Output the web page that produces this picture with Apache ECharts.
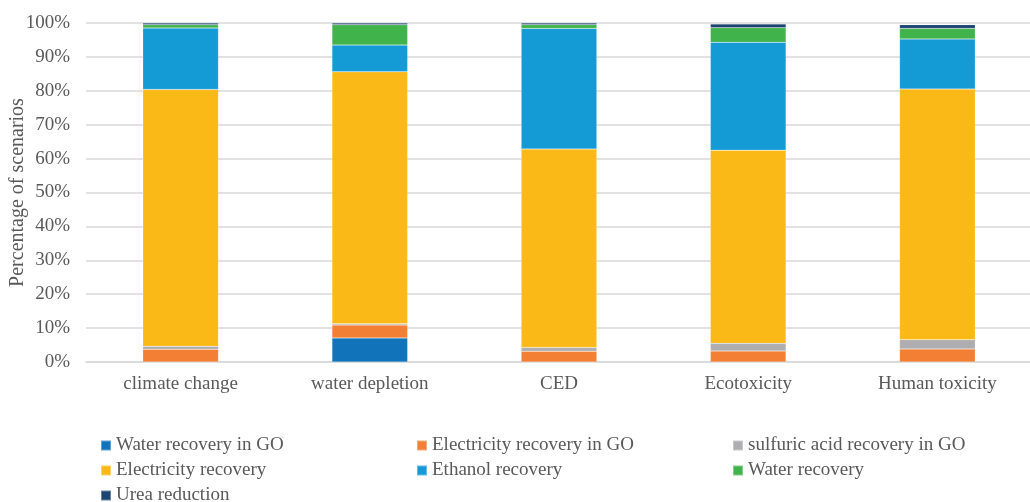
<!DOCTYPE html>
<html>
<head>
<meta charset="utf-8">
<script src="https://cdn.jsdelivr.net/npm/echarts@6/dist/echarts.min.js"></script>
<style>
  html, body { margin: 0; padding: 0; background: #fff; }
  #chart { width: 1030px; height: 502px; }
</style>
</head>
<body>
<div id="chart"></div>
<script>
// 类别与各情景占比（%）
const categories = ['climate change', 'water depletion', 'CED', 'Ecotoxicity', 'Human toxicity'];
const waterGO = [0, 7.1, 0, 0, 0];
const elecGO = [3.75, 3.8, 3.2, 3.25, 3.85];
const sulfuricGO = [0.9, 0.4, 1.1, 2.25, 2.75];
const elecRec = [75.75, 74.3, 58.5, 57.0, 73.9];
const ethanolRec = [18.1, 7.9, 35.6, 31.8, 14.8];
const waterRec = [1.0, 6.0, 1.1, 4.3, 3.1];
const ureaRed = [0.5, 0.5, 0.5, 1.1, 1.1];
const yTicks = [0, 10, 20, 30, 40, 50, 60, 70, 80, 90, 100];

const seriesDefs = [
  { name: 'Water recovery in GO', data: waterGO, color: '#1173ba' },
  { name: 'Electricity recovery in GO', data: elecGO, color: '#f37f35' },
  { name: 'sulfuric acid recovery in GO', data: sulfuricGO, color: '#aeaeb0' },
  { name: 'Electricity recovery', data: elecRec, color: '#fbb917' },
  { name: 'Ethanol recovery', data: ethanolRec, color: '#149bd6' },
  { name: 'Water recovery', data: waterRec, color: '#40b34a' },
  { name: 'Urea reduction', data: ureaRed, color: '#1b4470' }
];

const font = '"Liberation Serif", "Times New Roman", serif';
const textColor = '#595959';

const chart = echarts.init(document.getElementById('chart'));
chart.setOption({
  backgroundColor: '#fff',
  animation: false,
  textStyle: { fontFamily: font },
  grid: { left: 86, top: 23, width: 946, height: 339, outerBoundsMode: 'none' },
  legend: {
    left: 100, top: 433, width: 980, padding: 0,
    itemWidth: 10, itemHeight: 10, itemGap: 0,
    icon: 'rect',
    textStyle: { fontFamily: font, fontSize: 19, color: textColor, width: 300, lineHeight: 25 },
    data: seriesDefs.map(s => s.name)
  },
  xAxis: {
    type: 'category', data: categories,
    axisLine: { lineStyle: { color: '#d9d9d9', width: 1.5 } },
    axisTick: { show: false },
    axisLabel: { color: textColor, fontSize: 19, fontFamily: font, margin: 13 }
  },
  yAxis: {
    type: 'value', min: yTicks[0], max: yTicks[yTicks.length - 1], interval: 10,
    name: 'Percentage of scenarios', nameLocation: 'middle', nameGap: 58, nameMoveOverlap: false,
    nameTextStyle: { color: textColor, fontSize: 20, fontFamily: font },
    axisLine: { show: false }, axisTick: { show: false },
    splitLine: { lineStyle: { color: '#d9d9d9', width: 1.5 } },
    axisLabel: { color: textColor, fontSize: 19, fontFamily: font, margin: 16, formatter: v => v + '%' }
  },
  series: seriesDefs.map(s => ({
    name: s.name, type: 'bar', stack: 'total', barWidth: '40%',
    data: s.data,
    itemStyle: { color: s.color, borderColor: 'rgba(255,255,255,0.35)', borderWidth: 0.5 }
  }))
});
</script>
</body>
</html>
